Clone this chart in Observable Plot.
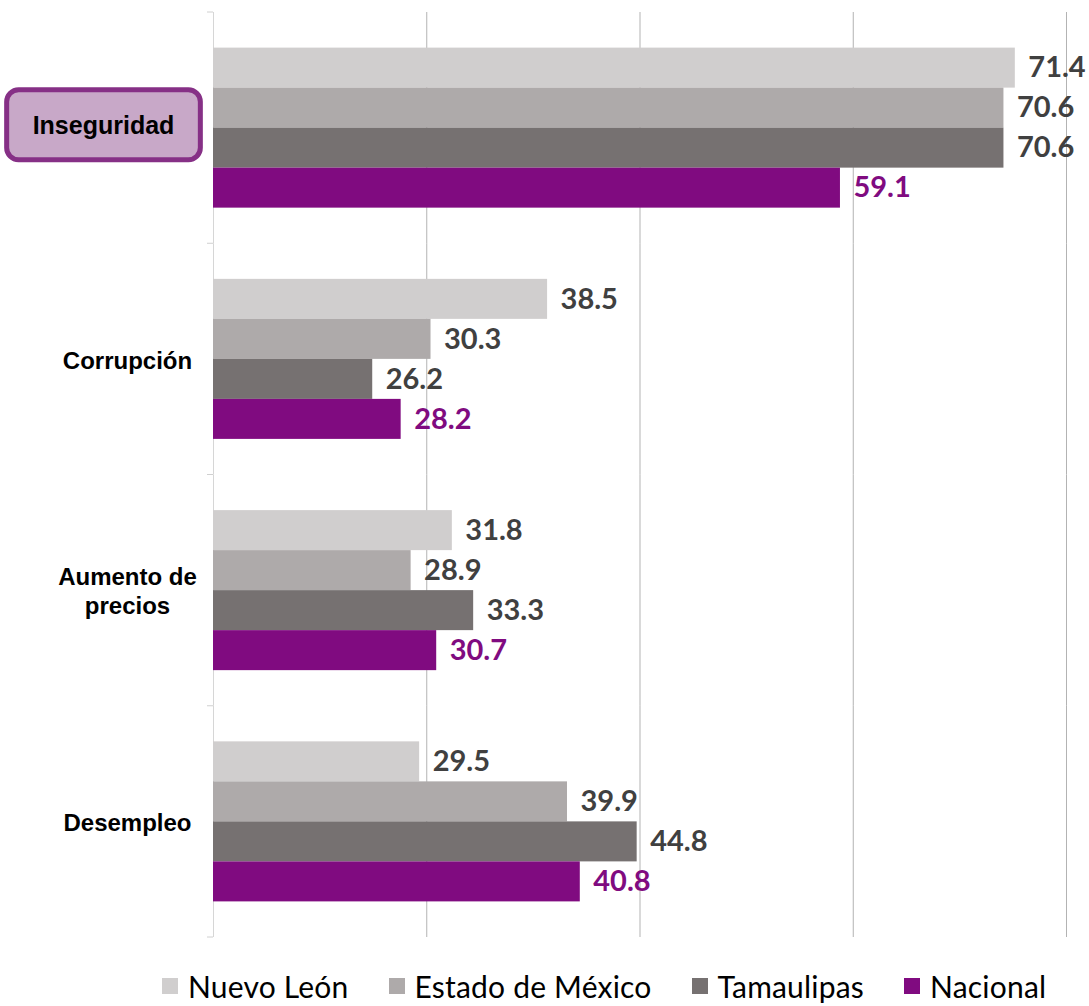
<!DOCTYPE html>
<html>
<head>
<meta charset="utf-8">
<script src="https://cdn.jsdelivr.net/npm/d3@7"></script>
<script src="https://cdn.jsdelivr.net/npm/@observablehq/plot@0.6"></script>
<style>
  body { margin: 0; background: #fff; overflow: hidden; }
  #chart svg { display: block; }
  #legend { display: flex; align-items: center; margin-left: 162px; margin-top: 18px; height: 36px; width: 927px;
            font-family: Lato, "Open Sans", sans-serif; font-size: 30px; letter-spacing: 0.2px; color: #000;
            line-height: 36px; white-space: nowrap; }
  .item { display: flex; align-items: center; margin-right: 40px; flex-shrink: 0; white-space: nowrap; }
  .sw { width: 16px; height: 16px; margin-right: 10px; flex-shrink: 0; }
</style>
</head>
<body>
<div id="chart"></div>
<div id="legend"></div>
<script>
// ---- data ----
const categories = ["Inseguridad", "Corrupción", "Aumento de precios", "Desempleo"];
const categoryLabels = ["Inseguridad", "Corrupción", "Aumento de\nprecios", "Desempleo"];
const series = ["Nuevo León", "Estado de México", "Tamaulipas", "Nacional"];
const nuevoLeon    = [71.4, 38.5, 31.8, 29.5];
const estadoMexico = [70.6, 30.3, 28.9, 39.9];
const tamaulipas   = [70.6, 26.2, 33.3, 44.8];
const nacional     = [59.1, 28.2, 30.7, 40.8];
const xTicks = [15, 30, 45, 60, 75];
const highlighted = "Inseguridad";

// ---- styles ----
const colors = ["#d0cece", "#aeaaaa", "#767171", "#800b80"];
const labelGray = "#404040";
const labelPurple = "#800b80";

const values = [nuevoLeon, estadoMexico, tamaulipas, nacional];
const rows = [];
categories.forEach((cat, i) => {
  series.forEach((s, j) => rows.push({cat, series: s, value: values[j][i]}));
});
const catRows = categories.map((cat, i) => ({cat, label: categoryLabels[i]}));

const valueFont = {fontSize: 29, fontWeight: "bold", fontFamily: "Lato, 'Open Sans', sans-serif"};
const catFont = {fontSize: 24, fontWeight: "bold", fontFamily: "'Liberation Sans', Arial, sans-serif", fill: "#000", lineHeight: 1.2};

const plot = Plot.plot({
  width: 1089,
  height: 950,
  marginLeft: 213,
  marginRight: 23,
  marginTop: 12,
  marginBottom: 13,
  x: {domain: [xTicks[0], xTicks[xTicks.length - 1]], axis: null},
  y: {domain: series, paddingInner: 0, paddingOuter: 0.89, round: false, axis: null},
  fy: {domain: categories, padding: 0, round: false, axis: null},
  color: {domain: series, range: colors},
  marks: [
    Plot.gridX(xTicks.slice(1), {stroke: "#b3b3b3", strokeOpacity: 1}),
    Plot.ruleX([xTicks[0]], {stroke: "#d6d6d6"}),
    Plot.barX(rows, {fy: "cat", y: "series", x1: xTicks[0], x2: "value", fill: "series"}),
    Plot.text(rows.filter(d => d.series !== "Nacional"), {
      fy: "cat", y: "series", x: "value", text: d => d.value.toFixed(1),
      dx: 13, textAnchor: "start", fill: labelGray, ...valueFont
    }),
    Plot.text(rows.filter(d => d.series === "Nacional"), {
      fy: "cat", y: "series", x: "value", text: d => d.value.toFixed(1),
      dx: 13, textAnchor: "start", fill: labelPurple, ...valueFont
    }),
    Plot.text(catRows.filter(d => d.cat !== highlighted), {
      fy: "cat", text: "label", frameAnchor: "left", dx: -86, textAnchor: "middle", ...catFont
    }),
    Plot.text(catRows.filter(d => d.cat === highlighted), {
      fy: "cat", text: "label", frameAnchor: "left", dx: -110, dy: -4, textAnchor: "middle", ...catFont, fontSize: 25
    })
  ]
});

document.getElementById("chart").appendChild(plot);

// separator ticks between category groups
const svg = d3.select(plot);
const fy = plot.scale("fy");
const xs = plot.scale("x");
const x0 = xs.apply(xTicks[0]);
const bounds = categories.map(c => fy.apply(c));
bounds.push(fy.apply(categories[categories.length - 1]) + fy.bandwidth);
svg.append("g").selectAll("line").data(bounds).join("line")
  .attr("x1", x0 - 6).attr("x2", x0).attr("y1", d => d).attr("y2", d => d)
  .attr("stroke", "#d0d0d0");

// rounded box behind the highlighted category label
svg.selectAll("text").each(function() {
  if (this.textContent === highlighted) {
    const bb = this.getBBox();
    const cx = bb.x + bb.width / 2, cy = bb.y + bb.height / 2;
    const w = bb.width + 52, h = 70;
    const r = document.createElementNS("http://www.w3.org/2000/svg", "rect");
    r.setAttribute("x", cx - w / 2);
    r.setAttribute("y", cy - h / 2);
    r.setAttribute("width", w);
    r.setAttribute("height", h);
    r.setAttribute("rx", 12);
    r.setAttribute("fill", "#c8a8c8");
    r.setAttribute("stroke", "#863086");
    r.setAttribute("stroke-width", 5);
    if (this.getAttribute("transform")) r.setAttribute("transform", this.getAttribute("transform"));
    this.parentNode.insertBefore(r, this);
  }
});

// legend
const legend = d3.select("#legend");
series.forEach((s, i) => {
  const it = legend.append("div").attr("class", "item");
  it.append("div").attr("class", "sw").style("background", colors[i]);
  it.append("span").text(s);
});
</script>
</body>
</html>
